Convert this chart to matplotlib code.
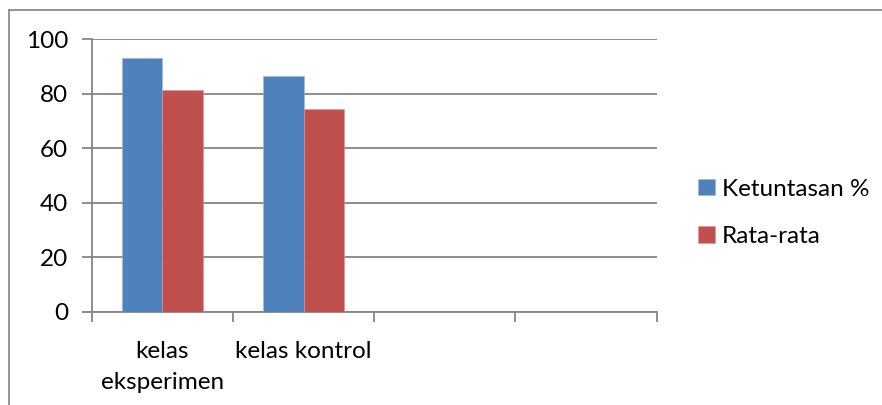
import numpy as np
import matplotlib
matplotlib.use("Agg")
import matplotlib.pyplot as plt
from matplotlib.lines import Line2D

plt.rcParams['font.family'] = ['Lato', 'DejaVu Sans']

# data
categories = ['kelas\neksperimen', 'kelas kontrol', '', '']
ketuntasan = [93.3, 86.7, np.nan, np.nan]
rata_rata = [81.4, 74.5, np.nan, np.nan]
series_names = ['Ketuntasan %', 'Rata-rata']
y_ticks = [0, 20, 40, 60, 80, 100]

blue = '#4F81BD'
red = '#C0504D'
grid_grey = '#868686'
fs = 17.5

fig = plt.figure(figsize=(8.82, 4.05), dpi=100)
ax = fig.add_axes([0.104, 0.2304, 0.6406, 0.6721])

x = np.arange(len(categories)) + 0.5
w = 0.285
ax.bar(x - w / 2, ketuntasan, w, color=blue, edgecolor='#9db7d8', linewidth=0.4, label=series_names[0], zorder=3)
ax.bar(x + w / 2, rata_rata, w, color=red, edgecolor='#d99594', linewidth=0.4, label=series_names[1], zorder=3)

ax.set_xlim(0, len(categories))
ax.set_ylim(0, 100)
ax.set_yticks(y_ticks)
ax.yaxis.grid(True, color=grid_grey, linewidth=1.3, zorder=0)

# labels at category centres, tick marks on the boundaries
ax.set_xticks(x)
ax.set_xticklabels(categories, fontsize=fs, linespacing=1.6)
ax.set_xticks(np.arange(len(categories) + 1), minor=True)
ax.tick_params(axis='x', which='major', length=0, pad=21)
ax.tick_params(axis='x', which='minor', length=7, width=1.3, color=grid_grey, direction='out')
ax.tick_params(axis='y', length=7, width=1.3, color=grid_grey, direction='out', labelsize=fs, pad=10)

for s in ['top', 'right']:
    ax.spines[s].set_visible(False)
for s in ['left', 'bottom']:
    ax.spines[s].set_color(grid_grey)
    ax.spines[s].set_linewidth(1.3)

leg = fig.legend(loc='upper left', bbox_to_anchor=(0.767, 0.613), frameon=False, fontsize=fs,
                 handlelength=0.68, handleheight=0.68, handletextpad=0.3, labelspacing=1.1)

# outer chart frame (left and top edges visible)
fig.add_artist(Line2D([9 / 882, 9 / 882], [0, 1 - 10 / 405], transform=fig.transFigure, color='#8c8c8c', linewidth=1.3))
fig.add_artist(Line2D([9 / 882, 1], [1 - 10 / 405, 1 - 10 / 405], transform=fig.transFigure, color='#8c8c8c', linewidth=1.3))

fig.savefig('out.png', dpi=100)
